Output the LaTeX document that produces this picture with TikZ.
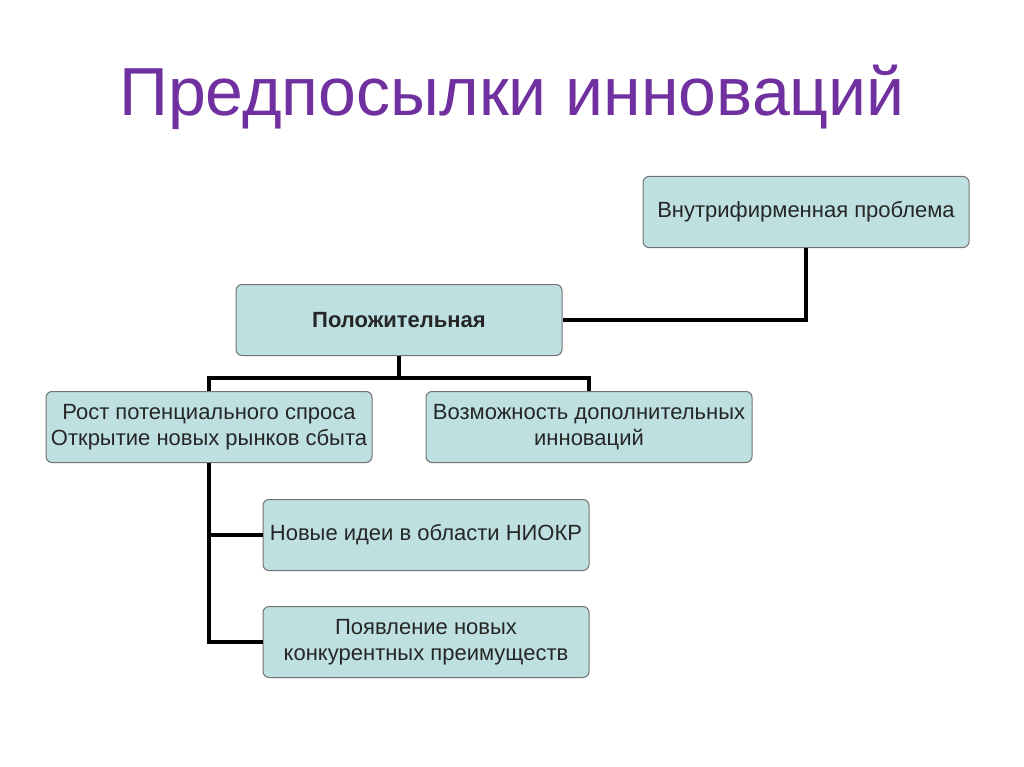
\documentclass[tikz,border=0pt]{standalone}
\usepackage{fontspec}
\setmainfont{Liberation Sans}
\begin{document}
\begin{tikzpicture}[x=1pt,y=-1pt,
  box/.style={draw=black!55,line width=1pt,fill={rgb,255:red,190;green,224;blue,224},rounded corners=6pt,minimum width=326pt,minimum height=71pt,align=center,font=\fontsize{22}{26}\selectfont,text=black!85,inner sep=2pt},
  conn/.style={line width=4pt}]
\useasboundingbox (0,0) rectangle (1024,767);
\node[font=\fontsize{68}{72}\selectfont,text={rgb,255:red,112;green,48;blue,160}] (title) at (512,97) {Предпосылки инноваций};
\node[box] (vn) at (806,212) {Внутрифирменная проблема};
\node[box,font=\fontsize{22}{26}\selectfont\bfseries] (pol) at (399,320) {Положительная};
\node[box] (rost) at (209,427) {Рост потенциального спроса\\Открытие новых рынков сбыта};
\node[box] (voz) at (589,427) {Возможность дополнительных\\инноваций};
\node[box] (idei) at (426,535) {Новые идеи в области НИОКР};
\node[box] (poya) at (426,642) {Появление новых\\конкурентных преимуществ};
\draw[conn] (pol.east) -| (vn.south);
\coordinate (j) at (399,378);
\draw[conn] (pol.south) -- (j);
\draw[conn] (rost.north) |- (j) -| (voz.north);
\draw[conn] (rost.south) |- (poya.west);
\draw[conn] (209,535) -- (idei.west);
\end{tikzpicture}
\end{document}
